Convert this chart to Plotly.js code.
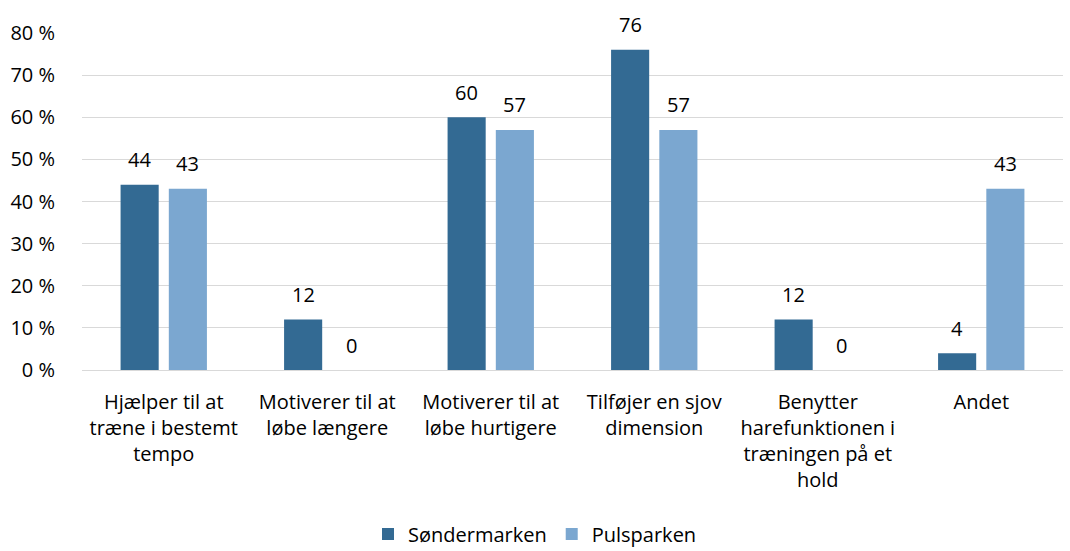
<!DOCTYPE html>
<html><head><meta charset="utf-8">
<script src="https://cdn.plot.ly/plotly-3.0.1.min.js"></script>
<style>html,body{margin:0;padding:0;background:#fff}#chart{width:1070px;height:551px}</style>
</head><body><div id="chart"></div>
<script>
var categories = [
  "Hjælper til at<br>træne i bestemt<br>tempo",
  "Motiverer til at<br>løbe længere",
  "Motiverer til at<br>løbe hurtigere",
  "Tilføjer en sjov<br>dimension",
  "Benytter<br>harefunktionen i<br>træningen på et<br>hold",
  "Andet"
];
var seriesNames = ["Søndermarken", "Pulsparken"];
var sondermarken = [44, 12, 60, 76, 12, 4];
var pulsparken = [43, 0, 57, 57, 0, 43];
var yTicks = [0, 10, 20, 30, 40, 50, 60, 70, 80];
var yTickText = yTicks.map(function(v){ return v + " %"; });

var colors = ["#336A93", "#7BA7D0"];
var font = "'Open Sans', sans-serif";
var fs = 20;

var traces = [
  {type: "bar", name: seriesNames[0], x: categories, y: sondermarken, marker: {color: colors[0]}, hoverinfo: "none"},
  {type: "bar", name: seriesNames[1], x: categories, y: pulsparken, marker: {color: colors[1]}, hoverinfo: "none"}
];

var annotations = [];
[sondermarken, pulsparken].forEach(function(vals, si) {
  vals.forEach(function(v, i) {
    annotations.push({
      x: categories[i], y: v, xref: "x", yref: "y",
      text: String(v), showarrow: false,
      xshift: si === 0 ? -24 : 24, yshift: 25,
      font: {family: font, size: fs, color: "#000"}
    });
  });
});

var layout = {
  width: 1070, height: 551,
  margin: {l: 82, r: 7, t: 33, b: 181},
  paper_bgcolor: "#fff", plot_bgcolor: "#fff",
  barmode: "group", bargap: 0.41, bargroupgap: 0.21,
  font: {family: font, size: fs, color: "#000"},
  xaxis: {
    tickfont: {family: font, size: fs, color: "#000"},
    showgrid: false, zeroline: false, showline: false,
    ticks: "outside", ticklen: 14, tickcolor: "rgba(0,0,0,0)", automargin: false
  },
  yaxis: {
    range: [0, 80], tickmode: "array", tickvals: yTicks, ticktext: yTickText,
    tickfont: {family: font, size: fs, color: "#000"},
    showgrid: true, gridcolor: "#d9d9d9", gridwidth: 1,
    zeroline: true, zerolinecolor: "#d9d9d9", zerolinewidth: 1,
    showline: false, ticks: "outside", ticklen: 22, tickcolor: "rgba(0,0,0,0)", automargin: false
  },
  showlegend: true,
  legend: {
    orientation: "h", x: 0.5, xanchor: "center", xref: "container",
    y: 0.031, yanchor: "middle", yref: "container",
    font: {family: font, size: fs, color: "#000"},
    traceorder: "normal"
  },
  annotations: annotations
};

Plotly.newPlot("chart", traces, layout, {staticPlot: true, displayModeBar: false});
</script></body></html>
